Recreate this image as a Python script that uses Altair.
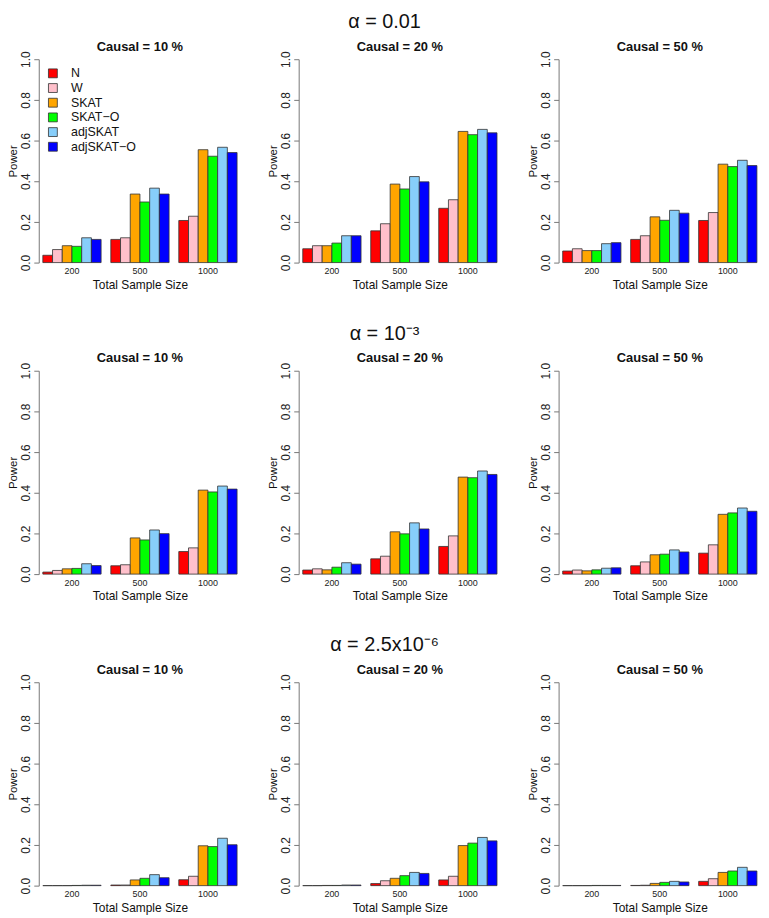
import altair as alt
import pandas as pd

FONT = "Liberation Sans"

methods = ["N", "W", "SKAT", "SKAT−O", "adjSKAT", "adjSKAT−O"]
sizes = ["200", "500", "1000"]
colors = ["#FF0000", "#FFC0CB", "#FFA500", "#00FF00", "#87CEFA", "#0000FF"]
alpha_titles = ["α = 0.01", "α = 10⁻³", "α = 2.5x10⁻⁶"]
causal_titles = ["Causal = 10 %", "Causal = 20 %", "Causal = 50 %"]

# power values: sizes 200, 500, 1000 ; methods N, W, SKAT, SKAT-O, adjSKAT, adjSKAT-O
a001_c10 = [0.036, 0.064, 0.083, 0.080, 0.122, 0.114,
            0.114, 0.122, 0.337, 0.298, 0.366, 0.337,
            0.207, 0.228, 0.555, 0.523, 0.567, 0.541]
a001_c20 = [0.068, 0.083, 0.083, 0.096, 0.132, 0.132,
            0.156, 0.191, 0.386, 0.362, 0.423, 0.397,
            0.267, 0.309, 0.645, 0.629, 0.655, 0.638]
a001_c50 = [0.057, 0.068, 0.059, 0.059, 0.093, 0.098,
            0.114, 0.132, 0.225, 0.208, 0.257, 0.243,
            0.207, 0.246, 0.484, 0.472, 0.503, 0.477]
a1e3_c10 = [0.010, 0.018, 0.026, 0.028, 0.051, 0.042,
            0.041, 0.046, 0.178, 0.168, 0.217, 0.199,
            0.111, 0.129, 0.413, 0.404, 0.433, 0.418]
a1e3_c20 = [0.020, 0.026, 0.021, 0.034, 0.056, 0.049,
            0.075, 0.088, 0.208, 0.198, 0.252, 0.222,
            0.136, 0.188, 0.477, 0.474, 0.507, 0.490]
a1e3_c50 = [0.015, 0.020, 0.016, 0.021, 0.029, 0.031,
            0.041, 0.060, 0.095, 0.098, 0.119, 0.109,
            0.103, 0.144, 0.294, 0.301, 0.325, 0.309]
a25e6_c10 = [0.000, 0.000, 0.000, 0.001, 0.002, 0.002,
             0.003, 0.003, 0.028, 0.036, 0.054, 0.039,
             0.029, 0.046, 0.196, 0.192, 0.233, 0.201]
a25e6_c20 = [0.000, 0.000, 0.001, 0.001, 0.003, 0.003,
             0.010, 0.024, 0.036, 0.049, 0.065, 0.060,
             0.028, 0.046, 0.197, 0.209, 0.237, 0.220]
a25e6_c50 = [0.000, 0.000, 0.000, 0.001, 0.001, 0.001,
             0.001, 0.002, 0.011, 0.016, 0.021, 0.018,
             0.021, 0.034, 0.065, 0.072, 0.090, 0.072]

grid = [[a001_c10, a001_c20, a001_c50],
        [a1e3_c10, a1e3_c20, a1e3_c50],
        [a25e6_c10, a25e6_c20, a25e6_c50]]


def panel(vals, title, show_legend):
    df = pd.DataFrame({
        "size": [s for s in sizes for _ in methods],
        "method": methods * len(sizes),
        "power": vals,
    })
    if show_legend:
        legend = alt.Legend(title=None, orient="top-left", offset=8,
                            symbolType="square", symbolSize=80,
                            symbolStrokeColor="#333", symbolStrokeWidth=0.8,
                            labelFontSize=12.5, labelFont=FONT, labelColor="#111",
                            labelOffset=12, rowPadding=1.8, padding=0)
    else:
        legend = None
    return alt.Chart(df, title=alt.TitleParams(title, fontSize=13, fontWeight="bold",
                                               font=FONT, color="#111", offset=-3)).mark_bar(
        stroke="#333", strokeWidth=0.8
    ).encode(
        x=alt.X("size:N", sort=sizes,
                scale=alt.Scale(paddingInner=1 / 7, paddingOuter=0.06),
                axis=alt.Axis(title="Total Sample Size", domain=False, ticks=False,
                              labelAngle=0, labelFontSize=9, labelPadding=4,
                              titleFontSize=12, titlePadding=4, titleFontWeight="normal")),
        xOffset=alt.XOffset("method:N", sort=methods,
                            scale=alt.Scale(paddingInner=0, paddingOuter=0)),
        y=alt.Y("power:Q", scale=alt.Scale(domain=[0, 1], nice=False, zero=True),
                axis=alt.Axis(title="Power", values=[0, 0.2, 0.4, 0.6, 0.8, 1.0],
                              format=".1f", labelAngle=270, grid=False,
                              tickSize=5, labelFontSize=12, labelPadding=1,
                              titleFontSize=11.5, titlePadding=1,
                              titleFontWeight="normal")),
        color=alt.Color("method:N", sort=methods,
                        scale=alt.Scale(domain=methods, range=colors), legend=legend),
    ).properties(width=204, height=205)


rows = []
for r in range(3):
    panels = [panel(grid[r][c], causal_titles[c], r == 0 and c == 0) for c in range(3)]
    row = alt.hconcat(*panels, spacing=27).resolve_scale(color="independent").properties(
        title=alt.TitleParams(alpha_titles[r], fontSize=20, fontWeight="normal",
                              font=FONT, anchor="middle", color="#111", offset=9)
    )
    rows.append(row)

chart = alt.vconcat(*rows, spacing=33).resolve_scale(color="independent").properties(
    padding=0, background="white"
).configure_view(stroke=None).configure_axis(
    labelFont=FONT, titleFont=FONT, labelColor="#222", titleColor="#111",
    domainColor="#777", tickColor="#777"
).configure_title(font=FONT)

chart.save("out.html", embed_options={"renderer": "svg", "actions": False})
